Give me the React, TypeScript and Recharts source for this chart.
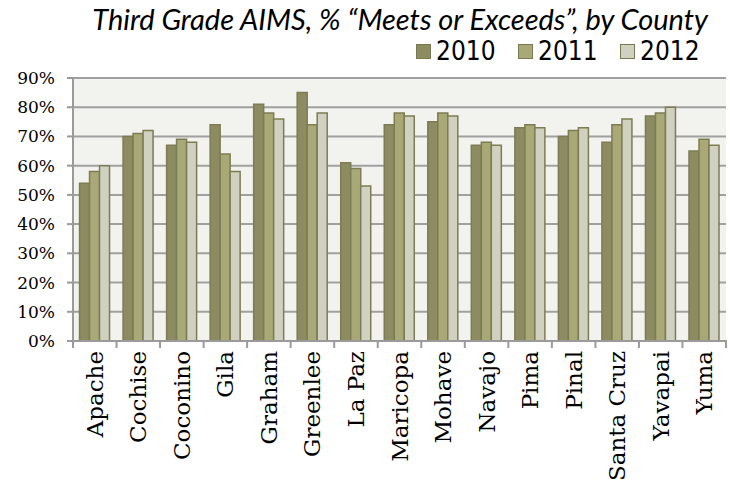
import { BarChart, Bar, XAxis, YAxis, CartesianGrid } from "recharts";

const counties = [
  "Apache", "Cochise", "Coconino", "Gila", "Graham", "Greenlee", "La Paz",
  "Maricopa", "Mohave", "Navajo", "Pima", "Pinal", "Santa Cruz", "Yavapai", "Yuma",
];
const y2010 = [54, 70, 67, 74, 81, 85, 61, 74, 75, 67, 73, 70, 68, 77, 65];
const y2011 = [58, 71, 69, 64, 78, 74, 59, 78, 78, 68, 74, 72, 74, 78, 69];
const y2012 = [60, 72, 68, 58, 76, 78, 53, 77, 77, 67, 73, 73, 76, 80, 67];
const yTicks = [0, 10, 20, 30, 40, 50, 60, 70, 80, 90];

const series = [
  { key: "2010", fill: "#8C8B62" },
  { key: "2011", fill: "#A9A877" },
  { key: "2012", fill: "#D1D1C1" },
];

const data = counties.map((name, i) => ({
  name,
  "2010": y2010[i],
  "2011": y2011[i],
  "2012": y2012[i],
}));

const CountyTick = (props: any) => {
  const { x, y, payload, index } = props;
  const off = payload.offset || 0;
  return (
    <g>
      <line x1={x - off} x2={x - off} y1={y - 9} y2={y - 1} stroke="#9A9A9A" strokeWidth={2} />
      {index === counties.length - 1 && (
        <line x1={x + off} x2={x + off} y1={y - 9} y2={y - 1} stroke="#9A9A9A" strokeWidth={2} />
      )}
      <text
        x={0}
        y={0}
        transform={`translate(${x},${y + 2}) rotate(-90)`}
        textAnchor="end"
        dominantBaseline="central"
        fontFamily="DejaVu Serif"
        fontSize={23}
        fill="#000"
      >
        {payload.value}
      </text>
    </g>
  );
};

const PercentTick = (props: any) => {
  const { x, y, payload } = props;
  return (
    <text
      x={x}
      y={y}
      textAnchor="end"
      dominantBaseline="central"
      fontFamily="DejaVu Serif"
      fontSize={17}
      fill="#000"
    >
      {`${payload.value}%`}
    </text>
  );
};

export default function App() {
  return (
    <div style={{ position: "absolute", left: 0, top: 0, width: 730, height: 485, background: "#fff" }}>
      <div
        style={{
          position: "absolute",
          right: 22,
          top: 1,
          fontFamily: "Lato",
          fontStyle: "italic",
          fontSize: 29,
          color: "#000",
          whiteSpace: "nowrap",
        }}
      >
        Third Grade AIMS, % “Meets or Exceeds”, by County
      </div>
      <div style={{ position: "absolute", left: 416, top: 36, display: "flex" }}>
        {series.map((s) => (
          <div key={s.key} style={{ display: "flex", alignItems: "center", width: 102 }}>
            <span
              style={{
                display: "inline-block",
                width: 13,
                height: 13,
                background: s.fill,
                border: "1px solid #7A7A50",
                marginRight: 5,
              }}
            />
            <span style={{ fontFamily: "'DejaVu Sans Condensed', 'DejaVu Sans'", fontSize: 26, color: "#000" }}>
              {s.key}
            </span>
          </div>
        ))}
      </div>
      <BarChart
        width={730}
        height={485}
        data={data}
        margin={{ top: 78, right: 4, bottom: 0, left: 0 }}
        barGap={0}
        barCategoryGap="15%"
      >
        <CartesianGrid vertical={false} stroke="#A0A0A0" strokeWidth={2} fill="#F2F2EE" />
        <XAxis
          dataKey="name"
          interval={0}
          height={144}
          tickLine={false}
          axisLine={{ stroke: "#9A9A9A", strokeWidth: 2 }}
          tick={<CountyTick />}
        />
        <YAxis
          width={73}
          domain={[0, 90]}
          ticks={yTicks}
          interval={0}
          tickSize={6}
          tickMargin={12}
          tickLine={{ stroke: "#9A9A9A", strokeWidth: 2 }}
          axisLine={{ stroke: "#9A9A9A", strokeWidth: 2 }}
          tick={<PercentTick />}
        />
        {series.map((s) => (
          <Bar
            key={s.key}
            dataKey={s.key}
            fill={s.fill}
            stroke="#7D7C52"
            strokeWidth={1.5}
            isAnimationActive={false}
          />
        ))}
      </BarChart>
    </div>
  );
}
